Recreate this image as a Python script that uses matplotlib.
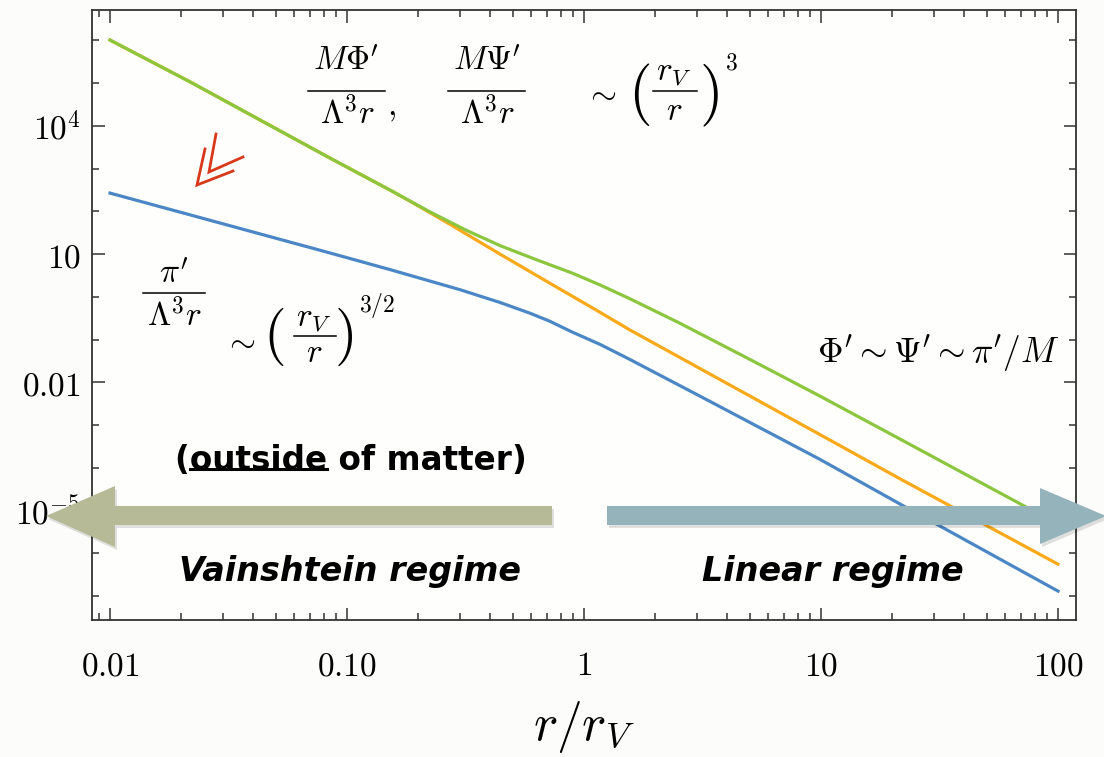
import numpy as np
import matplotlib
matplotlib.use('Agg')
import matplotlib.pyplot as plt
from matplotlib.patches import Polygon
from matplotlib.lines import Line2D
from matplotlib.ticker import FixedLocator, NullFormatter

plt.rcParams['mathtext.fontset'] = 'cm'

# values (r / r_V, and log10 of the plotted quantity)
r_green = [0.01, 0.0218, 0.0847, 0.152, 0.224, 0.316, 0.443, 0.631, 0.891, 1.17, 1.56,
           2.51, 5.01, 9.91, 21.5, 72.6, 100]
lg_green = [6.01, 5.03, 3.25, 2.50, 1.99, 1.57, 1.20, 0.87, 0.56, 0.28, -0.04,
            -0.60, -1.46, -2.32, -3.32, -4.90, -5.31]

r_orange = [0.01, 0.0218, 0.0847, 0.152, 0.190, 0.272, 0.443, 0.719, 1.17, 1.56, 9.91, 21.5, 100]
lg_orange = [6.01, 5.03, 3.25, 2.50, 2.20, 1.70, 1.00, 0.32, -0.36, -0.77, -3.22, -4.25, -6.25]

r_blue = [0.01, 0.0218, 0.0847, 0.152, 0.300, 0.443, 0.592, 0.719, 0.891, 1.17, 1.56, 3.16,
          9.91, 21.5, 100]
lg_blue = [2.43, 1.92, 1.03, 0.64, 0.17, -0.13, -0.38, -0.57, -0.82, -1.11, -1.46, -2.35,
           -3.80, -4.84, -6.88]

xticks = [0.01, 0.1, 1, 10, 100]
xticklabels = ['$0.01$', '$0.10$', '$1$', '$10$', '$100$']
yticks = [1e4, 10, 1e-2, 1e-5]
yticklabels = ['$10^4$', '$10$', '$0.01$', '$10^{-5}$']

W, H = 1104, 757
fig = plt.figure(figsize=(W / 100, H / 100), dpi=100)
fig.patch.set_facecolor('#fcfdfa')


def px(x, y):
    # pixel position (top-left origin) -> figure fraction
    return x / W, 1 - y / H


def put(x, y, s, size, **kw):
    kw.setdefault('ha', 'center')
    kw.setdefault('va', 'center')
    return fig.text(*px(x, y), s, fontsize=size, **kw)


def bar(x0, x1, y, lw=1.1):
    fig.add_artist(Line2D([x0 / W, x1 / W], [1 - y / H, 1 - y / H], color='black', lw=lw))


ax = fig.add_axes([92 / W, 1 - 620 / H, (1076 - 92) / W, (620 - 10) / H])
ax.set_facecolor('#fefffd')

ax.plot(r_blue, 10 ** np.array(lg_blue), color='#4b87c5', lw=2.3)
ax.plot(r_orange, 10 ** np.array(lg_orange), color='#f9a91a', lw=2.3)
ax.plot(r_green, 10 ** np.array(lg_green), color='#8cc63e', lw=2.3)

ax.set_xscale('log')
ax.set_yscale('log')
ax.set_xlim(10 ** -2.076, 10 ** 2.076)
ax.set_ylim(10 ** -7.556, 10 ** 6.713)

ax.set_xticks(xticks)
ax.set_xticklabels(xticklabels)
ax.xaxis.set_minor_locator(FixedLocator([m * 10.0 ** e for e in range(-3, 3) for m in range(2, 10)]))
ax.set_yticks(yticks)
ax.set_yticklabels(yticklabels)
ax.yaxis.set_minor_locator(FixedLocator([10.0 ** e for e in range(-7, 7)]))
ax.xaxis.set_minor_formatter(NullFormatter())
ax.yaxis.set_minor_formatter(NullFormatter())

ax.tick_params(which='both', direction='in', top=True, right=True, color='#333333', width=1.1)
ax.tick_params(which='major', length=9, labelsize=24)
ax.tick_params(which='minor', length=5)
ax.tick_params(axis='x', which='major', pad=21)
ax.tick_params(axis='y', which='major', pad=8)
for s in ax.spines.values():
    s.set_color('#333333')
    s.set_linewidth(1.3)

ax.set_xlabel('$r/r_V$', fontsize=37, labelpad=12)

# math annotations, built piece by piece
fs = 24
put(346, 61, r"$M\Phi'$", fs)
bar(308, 385, 91)
put(347, 114, r'$\Lambda^3 r$', fs)
put(391, 108, '$,$', fs)

put(487, 61, r"$M\Psi'$", fs)
bar(448, 525, 91)
put(487, 114, r'$\Lambda^3 r$', fs)

put(601, 93, r'$\sim$', fs)
put(639, 95, '$($', 44)
put(673, 72, '$r_V$', fs)
bar(653, 697, 91)
put(674, 110, '$r$', fs)
put(709, 95, '$)$', 44)
put(731, 62, '$3$', 17)

put(174, 274, r"$\pi'$", fs)
bar(143, 205, 293)
put(174, 316, r'$\Lambda^3 r$', fs)

put(240, 341, r'$\sim$', fs)
put(274, 337, '$($', 42)
put(313, 318, '$r_V$', fs)
bar(294, 336, 336)
put(314, 353, '$r$', fs)
put(344, 337, '$)$', 42)
put(377, 306, '$3/2$', 17)

put(1060, 353, r"$\Phi'\sim\Psi'\sim\pi'/M$", 25.5, ha='right')

# red double chevron
for pts in ([(205, 149), (197, 185), (233, 171)], [(216, 134), (209, 172), (243, 157)]):
    xs = [px(*p)[0] for p in pts]
    ys = [px(*p)[1] for p in pts]
    fig.add_artist(Line2D(xs, ys, color='#d8391b', lw=2.0, solid_joinstyle='miter'))


# regime arrows (drawn over the axes)
def arrow(points, color):
    shadow = [px(x + 2, y + 3) for x, y in points]
    fig.add_artist(Polygon(shadow, closed=True, facecolor='#000000', alpha=0.12,
                           edgecolor='none', zorder=4))
    fig.add_artist(Polygon([px(x, y) for x, y in points], closed=True,
                           facecolor=color, edgecolor='none', zorder=5))


arrow([(46, 516), (115, 486), (115, 506), (552, 506), (552, 525), (115, 525), (115, 547)], '#b7ba97')
arrow([(607, 506), (1040, 506), (1040, 488), (1106, 516), (1040, 544), (1040, 525), (607, 525)],
      '#94b3ba')

# regime labels
bold = dict(fontsize=23.5, fontweight='bold', family='DejaVu Sans', ha='center', va='center')
t_out = fig.text(*px(351, 460), '(outside of matter)', **bold)
fig.text(*px(350, 571), 'Vainshtein regime', style='italic', **dict(bold, fontsize=24))
fig.text(*px(833, 571), 'Linear regime', style='italic', **dict(bold, fontsize=24))

# underline "outside"
rend = fig.canvas.get_renderer()
bb = t_out.get_window_extent(rend)
tmp1 = fig.text(0, 0, '(', **bold)
tmp2 = fig.text(0, 0, '(outside', **bold)
w1 = tmp1.get_window_extent(rend).width
w2 = tmp2.get_window_extent(rend).width
tmp1.remove()
tmp2.remove()
uy = 1 - 469 / H
fig.add_artist(Line2D([(bb.x0 + w1) / W, (bb.x0 + w2) / W], [uy, uy], color='black', lw=2.2))

fig.savefig('out.png', dpi=100, facecolor=fig.get_facecolor())
